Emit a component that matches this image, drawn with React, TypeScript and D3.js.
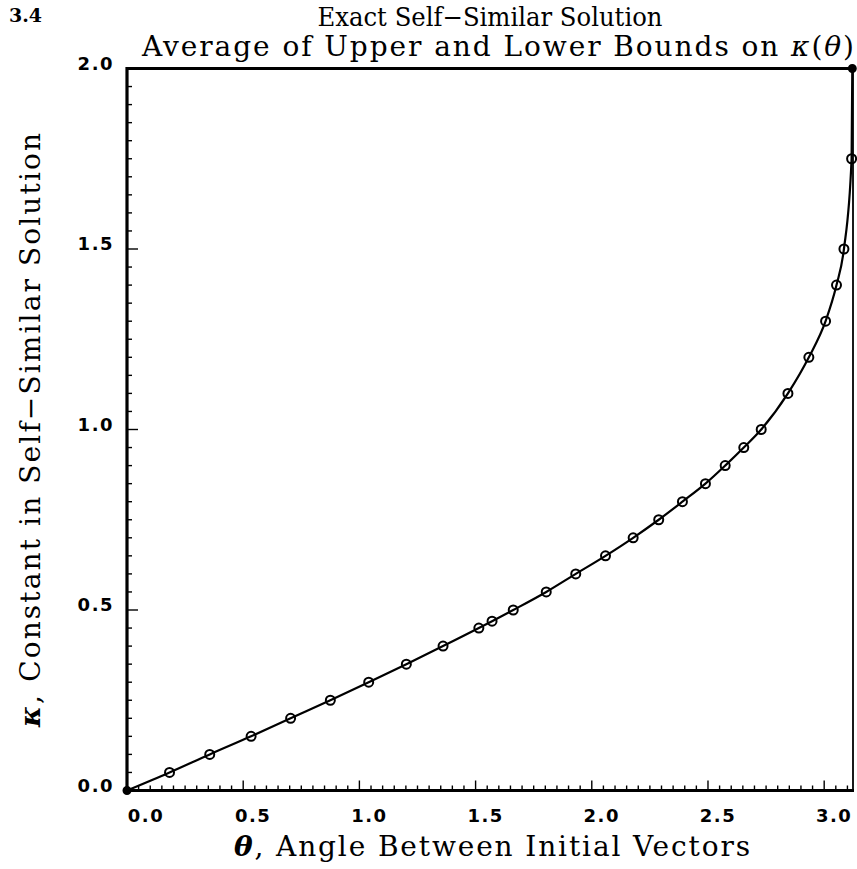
import React from "react";
import * as d3 from "d3";

const theta = [0, 0.183, 0.356, 0.534, 0.704, 0.875, 1.04, 1.202, 1.36, 1.514, 1.5708, 1.662, 1.804, 1.931, 2.059, 2.178, 2.288, 2.39, 2.489, 2.574, 2.654, 2.729, 2.844, 2.934, 3.006, 3.053, 3.085, 3.118, 3.121];
const kappa = [0, 0.05, 0.1, 0.15, 0.2, 0.25, 0.3, 0.35, 0.4, 0.45, 0.469, 0.5, 0.55, 0.6, 0.65, 0.7, 0.75, 0.8, 0.85, 0.9, 0.95, 1.0, 1.1, 1.2, 1.3, 1.4, 1.5, 1.75, 2.0];
const xTickValues = [0, 0.5, 1.0, 1.5, 2.0, 2.5, 3.0];
const yTickValues = [0, 0.5, 1.0, 1.5, 2.0];
const xDomain = [0, 3.124];
const yDomain = [0, 2];

const W = 857, H = 869;
const L = 127, R = 853, T = 68.5, B = 790.5;

export default function App() {
  const x = d3.scaleLinear().domain(xDomain).range([L, R]);
  const y = d3.scaleLinear().domain(yDomain).range([B, T]);
  const pts: [number, number][] = theta.map((t, i) => [t, kappa[i]]);
  const line = d3.line<[number, number]>().x(d => x(d[0])).y(d => y(d[1])).curve(d3.curveMonotoneX);
  const xMinor = d3.range(0, 3.1001, 0.05);
  const yMinor = d3.range(0, 2.0001, 0.05);
  const isMajor = (v: number) => Math.abs(v * 2 - Math.round(v * 2)) < 1e-6;
  const serif = "'DejaVu Serif', serif";
  const sans = "'DejaVu Sans', sans-serif";
  return (
    <svg width={W} height={H} style={{ position: "absolute", left: 0, top: 0, background: "#fff" }}>
      <rect x={0} y={0} width={W} height={H} fill="#fff" />
      <text x={9} y={22} fontFamily={serif} fontWeight="bold" fontSize={19}>3.4</text>
      <text x={490} y={26} textAnchor="middle" fontFamily={serif} fontSize={26} textLength={345} lengthAdjust="spacingAndGlyphs">Exact Self−Similar Solution</text>
      <text x={142} y={56} fontFamily={serif} fontSize={28} textLength={712}>
        Average of Upper and Lower Bounds on <tspan fontStyle="italic">κ</tspan>(<tspan fontStyle="italic">θ</tspan>)
      </text>
      <text transform={`translate(40,430) rotate(-90)`} textAnchor="middle" fontFamily={serif} fontSize={28} textLength={594}>
        <tspan fontStyle="italic" fontWeight="bold">κ</tspan>, Constant in Self−Similar Solution
      </text>
      <text x={492} y={856} textAnchor="middle" fontFamily={serif} fontSize={28} textLength={516}>
        <tspan fontStyle="italic" fontWeight="bold">θ</tspan>, Angle Between Initial Vectors
      </text>
      {xMinor.map((v, i) => (
        <line key={"xt" + i} x1={x(v)} x2={x(v)} y1={B} y2={B - (isMajor(v) ? 10 : 5)} stroke="#000" strokeWidth={1.4} />
      ))}
      {yMinor.map((v, i) => (
        <line key={"yt" + i} y1={y(v)} y2={y(v)} x1={L} x2={L + (isMajor(v) ? 11 : 5)} stroke="#000" strokeWidth={1.4} />
      ))}
      {xTickValues.map((v, i) => (
        <text key={"xl" + i} x={x(v) + (v === 0 ? 19 : 10)} y={822} textAnchor="middle" fontFamily={sans} fontWeight="bold" fontSize={18} letterSpacing={1.5}>
          {v.toFixed(1)}
        </text>
      ))}
      {yTickValues.map((v, i) => (
        <text key={"yl" + i} x={114} y={y(v) + 1} textAnchor="end" fontFamily={sans} fontWeight="bold" fontSize={18} letterSpacing={1.5}>
          {v.toFixed(1)}
        </text>
      ))}
      <line x1={R} x2={R} y1={T} y2={B} stroke="#000" strokeWidth={1.8} />
      <line x1={L} x2={R + 1} y1={T} y2={T} stroke="#000" strokeWidth={3.2} />
      <line x1={L} x2={R + 1} y1={B} y2={B} stroke="#000" strokeWidth={3.2} />
      <line x1={L} x2={L} y1={T - 1.5} y2={B + 1.5} stroke="#000" strokeWidth={3.2} />
      <path d={line(pts) || ""} fill="none" stroke="#000" strokeWidth={2.2} />
      {pts.map((p, i) => {
        const end = i === 0 || i === pts.length - 1;
        return (
          <circle key={"p" + i} cx={x(p[0])} cy={y(p[1])} r={end ? 3.5 : 4.5} fill={end ? "#000" : "none"} stroke="#000" strokeWidth={2} />
        );
      })}
    </svg>
  );
}
